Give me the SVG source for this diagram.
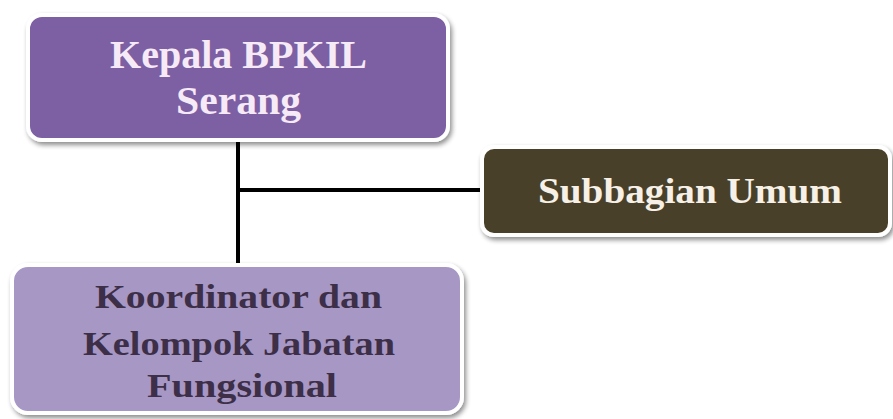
<svg xmlns="http://www.w3.org/2000/svg" width="893" height="419" viewBox="0 0 893 419">
<defs>
<filter id="sh" x="-10%" y="-10%" width="125%" height="130%">
<feGaussianBlur in="SourceAlpha" stdDeviation="2.5"/>
<feOffset dx="2" dy="3" result="b"/>
<feComponentTransfer><feFuncA type="linear" slope="0.45"/></feComponentTransfer>
<feMerge><feMergeNode/><feMergeNode in="SourceGraphic"/></feMerge>
</filter>
</defs>
<style>
.box{stroke:#ffffff;stroke-width:4;filter:url(#sh)}
.t{font-family:"Liberation Serif","DejaVu Serif",serif;font-weight:bold;text-anchor:middle}
.ln{stroke:#000;stroke-width:4;fill:none}
</style>
<rect width="893" height="419" fill="#fff"/>
<g id="connectors">
<line class="ln" x1="238" y1="140" x2="238" y2="265"/>
<line class="ln" x1="238" y1="190" x2="484" y2="190"/>
</g>
<g id="kepala">
<rect class="box" x="28" y="15" width="420" height="125" rx="14" fill="#7d5fa4"/>
<text class="t" x="238.5" y="68" font-size="39" fill="#f6eaf6" textLength="257" lengthAdjust="spacingAndGlyphs">Kepala BPKIL</text>
<text class="t" x="238.5" y="114" font-size="39" fill="#f6eaf6" textLength="125" lengthAdjust="spacingAndGlyphs">Serang</text>
</g>
<g id="subbagian">
<rect class="box" x="482" y="147" width="408" height="88" rx="12" fill="#4a4129"/>
<text class="t" x="690" y="203" font-size="35" fill="#f6f0e6" textLength="304" lengthAdjust="spacingAndGlyphs">Subbagian Umum</text>
</g>
<g id="koordinator">
<rect class="box" x="12" y="265" width="450" height="148" rx="16" fill="#a797c5"/>
<text class="t" x="238.5" y="308" font-size="33" fill="#3c2f47" textLength="287" lengthAdjust="spacingAndGlyphs">Koordinator dan</text>
<text class="t" x="239" y="355" font-size="33" fill="#3c2f47" textLength="312" lengthAdjust="spacingAndGlyphs">Kelompok Jabatan</text>
<text class="t" x="242" y="397" font-size="33" fill="#3c2f47" textLength="190" lengthAdjust="spacingAndGlyphs">Fungsional</text>
</g>
</svg>
